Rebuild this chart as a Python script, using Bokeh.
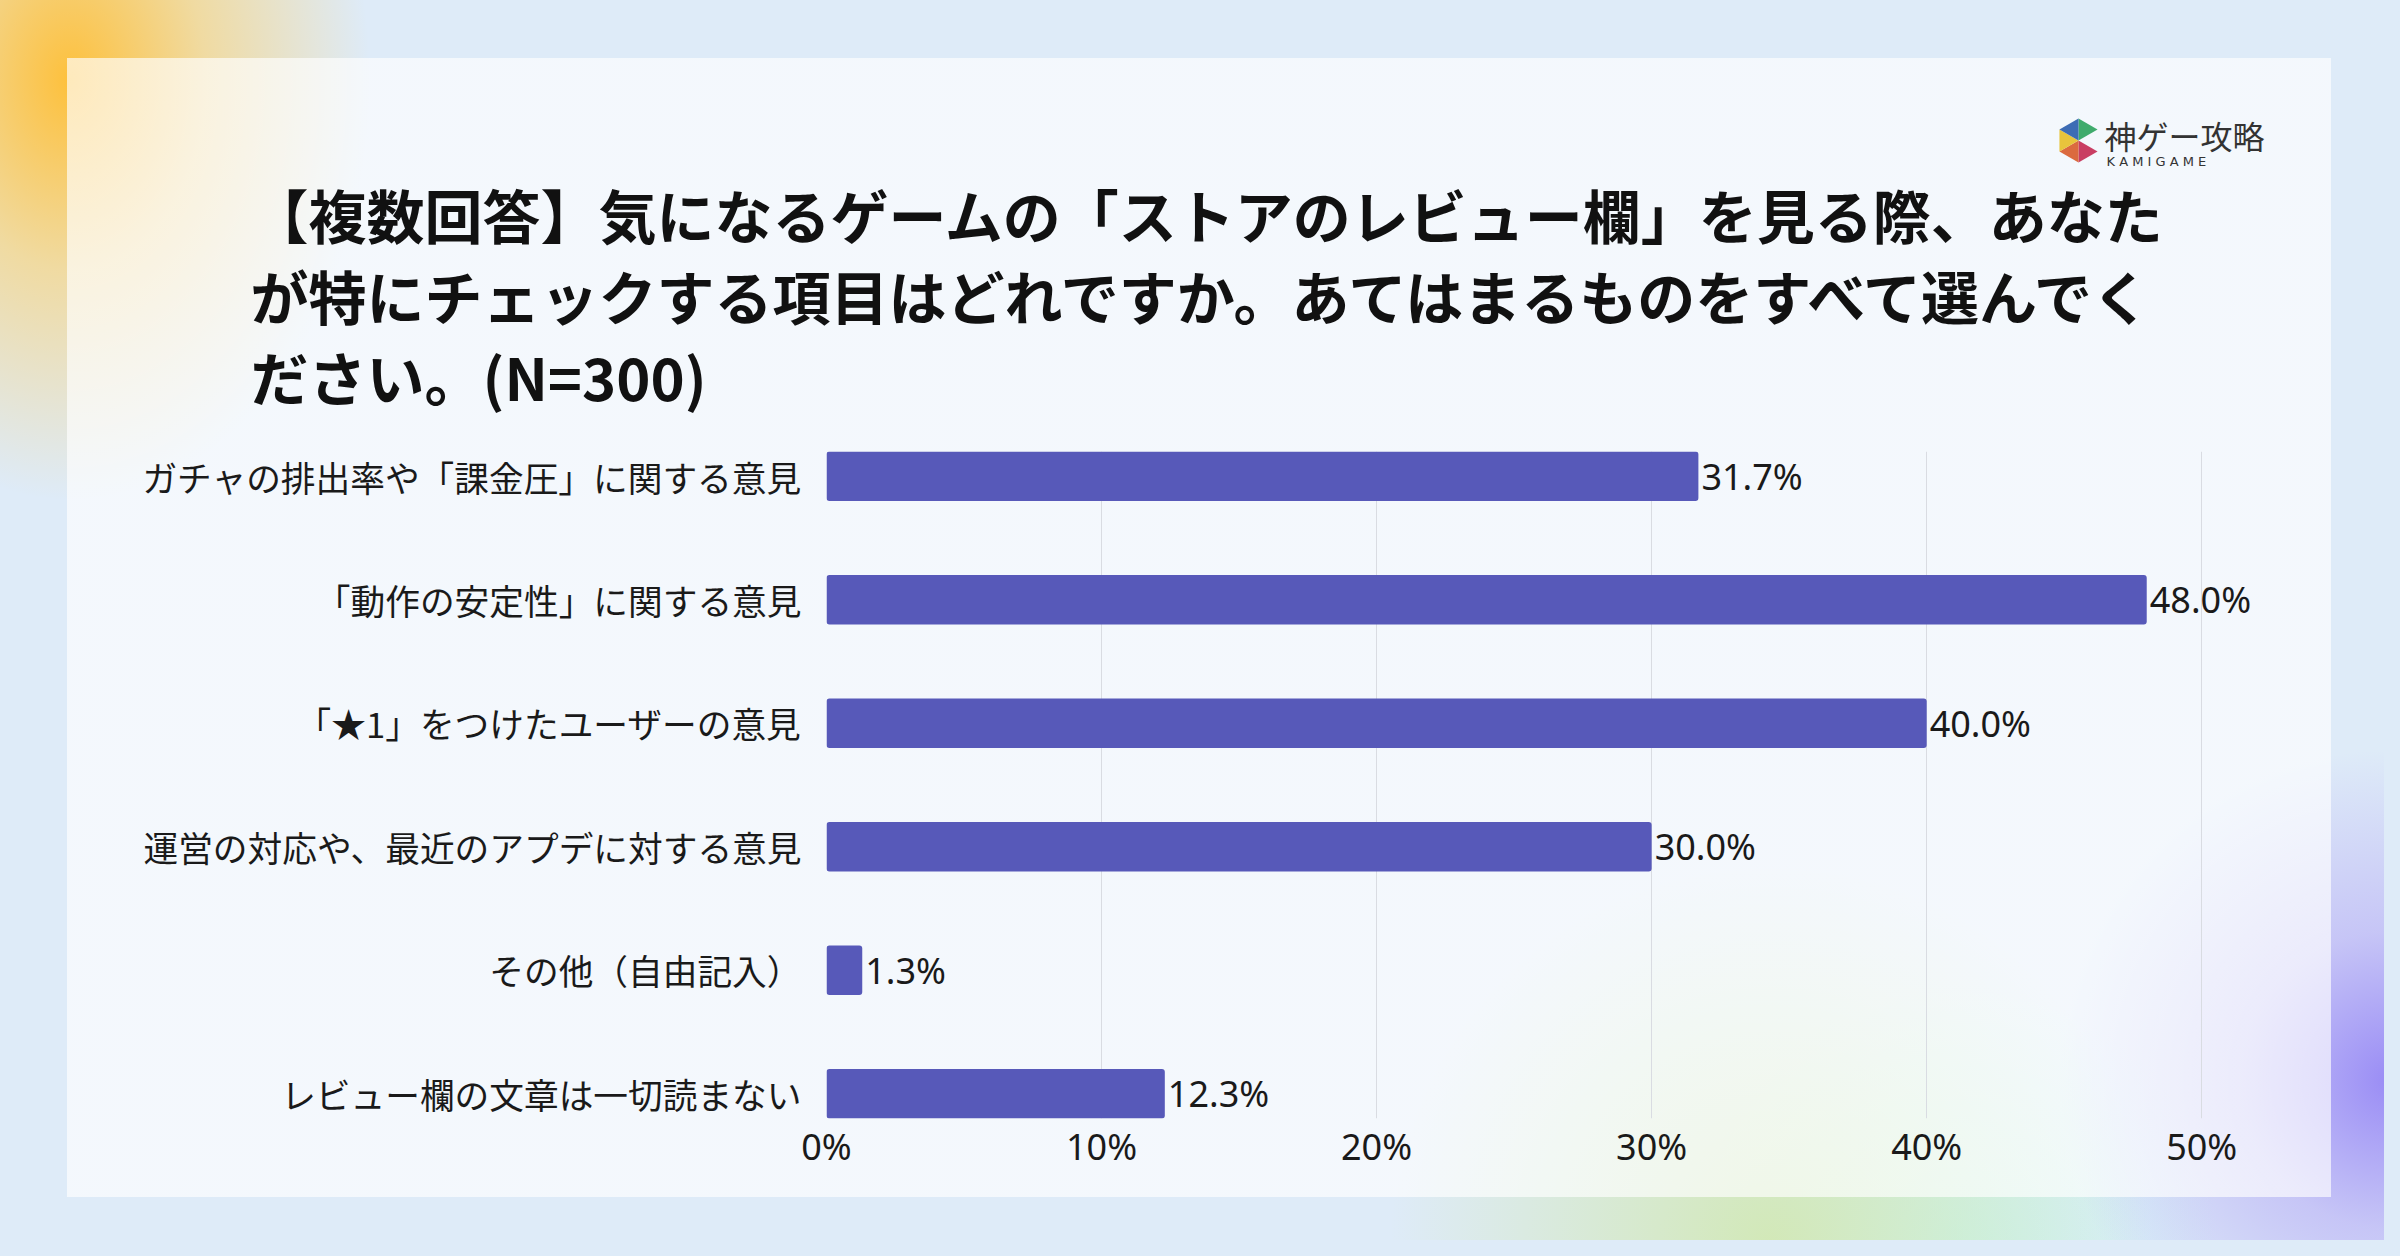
from bokeh.plotting import figure
from bokeh.layouts import column
from bokeh.models import Range1d, FixedTicker, PrintfTickFormatter, Label, ColumnDataSource
from bokeh.core.properties import value
from bokeh.embed import file_html
from bokeh.resources import INLINE
import math

# ---- data ----
categories = [
    "ガチャの排出率や「課金圧」に関する意見",
    "「動作の安定性」に関する意見",
    "「★1」をつけたユーザーの意見",
    "運営の対応や、最近のアプデに対する意見",
    "その他（自由記入）",
    "レビュー欄の文章は一切読まない",
]
percentages = [31.7, 48.0, 40.0, 30.0, 1.3, 12.3]
x_ticks = [0, 10, 20, 30, 40, 50]
title_lines = [
    "【複数回答】気になるゲームの「ストアのレビュー欄」を見る際、あなた",
    "が特にチェックする項目はどれですか。あてはまるものをすべて選んでく",
    "ださい。(N=300)",
]
logo_text = "神ゲー攻略"
logo_sub = "K   A   M   I   G   A   M   E"
logo_colors = ["#3fab6c", "#c93e63", "#db6a3f", "#e8c43c", "#3d6cb5"]

W, H = 2384, 1240
TOP_H = 451          # height of header strip (frame of chart starts here)
BAR = "#5759B9"
JP = "Noto Sans CJK JP"

bg = (
    "linear-gradient(rgba(255,255,255,0.66), rgba(255,255,255,0.66)) 67px 58px / 2264px 1139px no-repeat, "
    "radial-gradient(ellipse 300px 420px at 70px 80px, rgba(255,190,50,0.95), rgba(255,205,90,0.55) 45%, rgba(255,215,120,0) 100%), "
    "radial-gradient(circle 330px at 2390px 1080px, rgba(150,135,245,0.95), rgba(175,160,245,0.5) 45%, rgba(190,180,250,0) 100%), "
    "radial-gradient(circle 380px at 1770px 1245px, rgba(210,232,180,0.95), rgba(215,238,195,0) 100%), "
    "radial-gradient(circle 260px at 1960px 1245px, rgba(200,245,245,0.9), rgba(205,245,245,0) 100%), "
    "#deebf8"
)


def no_frame_align(fig):
    try:
        fig.frame_align = False
    except Exception:
        pass


# ---------------- header (title + logo), pixel coordinates ----------------
hd = figure(width=W, height=TOP_H, x_range=Range1d(0, W), y_range=Range1d(TOP_H, 0),
            output_backend="svg", toolbar_location=None,
            min_border=0, x_axis_type=None, y_axis_type=None)
no_frame_align(hd)
hd.background_fill_alpha = 0
hd.border_fill_alpha = 0
hd.outline_line_color = None
hd.xgrid.visible = False
hd.ygrid.visible = False

for t, yy in zip(title_lines, [213, 294, 375]):
    hd.add_layout(Label(x=250, y=yy, text=t,
                        text_font=JP, text_font_style="bold", text_font_size="58px",
                        text_color="#111111", text_baseline="middle", text_align="left"))

hd.add_layout(Label(x=2104, y=134, text=logo_text,
                    text_font=JP, text_font_size="32px", text_color="#333333",
                    text_baseline="middle", text_align="left"))
hd.add_layout(Label(x=2106, y=161, text=logo_sub,
                    text_font="DejaVu Sans", text_font_size="13px", text_color="#333333",
                    text_baseline="middle", text_align="left"))

# logo mark: hexagon of five triangles (right sector open)
cx, cy, r = 2078, 140, 22
angles = [90, 30, -30, -90, -150, 150]
verts = [(cx + r * math.cos(math.radians(a)), cy - r * math.sin(math.radians(a))) for a in angles]
sectors = [(0, 1), (2, 3), (3, 4), (4, 5), (5, 0)]
hd.patches(xs=[[verts[i][0], verts[j][0], cx] for i, j in sectors],
           ys=[[verts[i][1], verts[j][1], cy] for i, j in sectors],
           fill_color=logo_colors, line_color=None)

# ---------------- chart ----------------
positions = list(range(len(categories)))
src = ColumnDataSource(dict(
    y=positions,
    v=percentages,
    lab=[f"{v:.1f}%" for v in percentages],
))

p = figure(
    width=W, height=H - TOP_H,
    x_range=Range1d(0, 52.5),
    y_range=Range1d(5.2, -0.2),
    output_backend="svg", toolbar_location=None,
    min_border_left=826, min_border_right=114,
    min_border_top=0, min_border_bottom=122,
)
no_frame_align(p)
p.background_fill_alpha = 0
p.border_fill_alpha = 0
p.outline_line_color = None

p.hbar(y="y", right="v", left=0, height=0.4, source=src,
       fill_color=BAR, line_color=None, border_radius=3)
p.text(x="v", y="y", text="lab", source=src, x_offset=3,
       text_align="left", text_baseline="middle",
       text_font=value("Noto Sans"), text_font_size="36px", text_color="#1a1a1a")

xa = p.xaxis[0]
xa.ticker = FixedTicker(ticks=x_ticks)
xa.formatter = PrintfTickFormatter(format="%d%%")
xa.axis_line_color = None
xa.major_tick_line_color = None
xa.minor_tick_line_color = None
xa.major_tick_out = 0
xa.major_tick_in = 0
xa.major_label_standoff = 3
xa.major_label_text_font = "Noto Sans"
xa.major_label_text_font_size = "36px"
xa.major_label_text_color = "#1a1a1a"

ya = p.yaxis[0]
ya.ticker = FixedTicker(ticks=positions)
ya.major_label_overrides = {i: c for i, c in zip(positions, categories)}
ya.axis_line_color = None
ya.major_tick_line_color = None
ya.minor_tick_line_color = None
ya.major_label_standoff = 19
ya.major_label_text_font = JP
ya.major_label_text_font_size = "34.7px"
ya.major_label_text_color = "#1a1a1a"

p.xgrid.grid_line_color = "#d9dce2"
p.xgrid.grid_line_width = 1
p.ygrid.grid_line_color = None

page = column(hd, p, spacing=0)
page.styles = {"background": bg, "box-shadow": "0 0 0 16px #deebf8"}

open("out.html", "w").write(file_html(page, INLINE))
